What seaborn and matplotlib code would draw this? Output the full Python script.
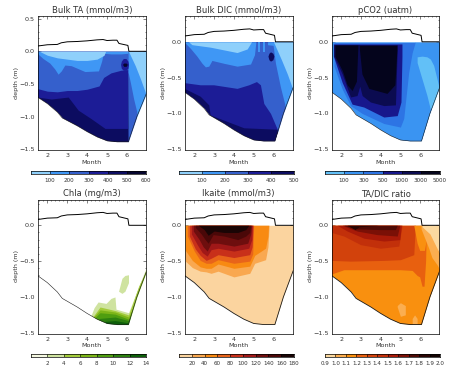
import matplotlib
matplotlib.use('Agg')
import matplotlib.pyplot as plt
from matplotlib.colors import ListedColormap
from matplotlib.ticker import MultipleLocator
import seaborn as sns

# ice surface and ice bottom
ice_m = [1.5, 2, 2.5, 2.7, 3, 3.5, 4, 4.5, 4.8, 5, 5.3, 5.5, 5.6, 5.9, 6.05, 6.1, 7]
ice_d = [.08, .10, .105, .13, .145, .15, .16, .175, .18, .165, .17, .17, .12, .10, .09, 0, 0]
bot_m = [1.5, 2, 2.5, 2.75, 3, 3.5, 4, 4.5, 5, 5.5, 6.07, 6.5, 7]
bot_d = [-.70, -.80, -.93, -1.02, -1.06, -1.14, -1.23, -1.31, -1.37, -1.385, -1.385, -1.0, -.63]

blues = ['#8fd0fb', '#3f97f5', '#3560cc', '#1c1c96', '#0c0c60', '#05052e']
co2_blues = ['#62c0f7', '#3a94f2', '#2d74e4', '#17178c', '#0b0b50', '#04041c']
greens = ['#f6f9e2', '#cfe3a0', '#a4cc3c', '#7cb518', '#4f9e10', '#2d8010', '#0e5f0a']
ikaite_cols = ['#fbd49f', '#f9a850', '#f88a12', '#e8641a', '#c8301a', '#a01818', '#6e0e0e', '#4a0808', '#1a0505']
ratio_cols = ['#fbd9a0', '#fbae50', '#f9900f', '#e8600f', '#d2420c', '#c2300a', '#a81a08', '#7a1006', '#4d0a05', '#2a0503', '#120201']

ta_ticks = ['100', '200', '300', '400', '500', '600']
dic_ticks = ['100', '200', '300', '400', '500']
co2_ticks = ['100', '300', '500', '1000', '3000', '5000']
chla_ticks = ['2', '4', '6', '8', '10', '12', '14']
ikaite_ticks = ['20', '40', '60', '80', '100', '120', '140', '160', '180']
ratio_ticks = ['0.9', '1.0', '1.1', '1.2', '1.3', '1.4', '1.5', '1.6', '1.7', '1.8', '1.9', '2.0']

# each layer: class, months, upper depth, lower depth; painted in order
ta_layers = [
    (4, bot_m, 0, bot_d),
    (3, [1.5, 2.2, 3.05, 3.55, 4.2, 4.9, 6.03, 6.05], 0, [-.7, -.73, -.70, -.90, -1.03, -1.18, -1.18, 0]),
    (2, [1.5, 2, 2.5, 3, 3.5, 4, 4.6, 4.83, 5.2, 5.7, 6.04, 6.06, 7], 0,
     [-.57, -.61, -.62, -.60, -.60, -.58, -.53, -.40, -.33, -.29, -.28, -1.45, -1.45]),
    (1, [1.5, 1.56, 1.78, 2.12, 2.37, 2.54, 2.7, 2.88, 3.2, 3.89, 4.57, 4.73, 4.82, 5.2, 5.7, 6.05], 0,
     [-.02, -.05, -.11, -.18, -.27, -.35, -.30, -.21, -.22, -.31, -.30, -.15, -.03, -.04, -.04, -.03]),
    (1, [6.06, 6.061, 6.17, 6.34, 6.5, 6.51, 7], 0, [0, -.32, -.47, -.73, -.93, -1.45, -1.45]),
    (0, [1.6, 2, 2.5, 3, 3.5, 4, 4.5, 4.85, 4.93], 0, [0, -.06, -.10, -.12, -.14, -.14, -.12, -.06, 0]),
    (0, [6.08, 6.42, 6.68, 6.93, 7], 0, [0, -.22, -.42, -.63, -.68]),
    (3, [5.68, 5.72, 5.82, 5.95, 6.05, 6.08], [-.2, -.15, -.11, -.11, -.15, -.2], [-.2, -.26, -.29, -.29, -.26, -.2]),
    (5, [5.78, 5.84, 5.96, 6.02], [-.2, -.18, -.18, -.2], [-.2, -.23, -.23, -.2]),
]
dic_layers = [
    (4, bot_m, 0, bot_d),
    (3, [1.5, 2.3, 2.73, 2.8, 3.65, 4.5, 6.19], 0, [-.65, -.76, -.88, -1.02, -1.11, -1.2, -1.22]),
    (2, [1.5, 2.3, 2.98, 4.16, 4.75, 5.14, 5.34, 5.51, 5.85, 6.19, 6.3, 7], 0,
     [-.57, -.60, -.60, -.65, -.60, -.555, -.60, -.86, -1.0, -1.22, -1.45, -1.45]),
    (1, [1.5, 1.55, 1.8, 2.13, 2.39, 2.56, 2.73, 2.89, 3.49, 4.16, 4.84, 5.04, 5.11], 0,
     [-.01, -.02, -.09, -.2, -.3, -.35, -.34, -.26, -.3, -.34, -.31, -.18, 0]),
    (1, [5.22, 5.3], 0, [-.14, -.14]),
    (1, [5.46, 5.55], 0, [-.14, -.14]),
    (1, [5.7, 5.98, 6.1, 6.35, 6.56, 6.66, 6.67, 7], 0, [-.04, -.05, -.3, -.63, -.86, -.98, -1.45, -1.45]),
    (0, [1.71, 1.88, 2.81, 4.16, 4.67, 4.89], 0, [0, -.04, -.075, -.15, -.10, 0]),
    (0, [6.0, 6.4, 6.7, 7], 0, [0, -.25, -.45, -.68]),
    (4, [5.72, 5.77, 5.85, 5.97, 6.02], [-.2, -.16, -.14, -.16, -.2], [-.2, -.25, -.27, -.25, -.2]),
]
co2_layers = [
    (1, bot_m, 0, bot_d),
    (2, [1.63, 2.05, 2.47, 3.06, 4.16, 5.0, 5.17, 5.42, 5.6, 5.76], -.01,
     [-.34, -.66, -.89, -1.0, -1.14, -1.19, -1.07, -.43, -.15, 0]),
    (3, [1.6, 2.05, 2.55, 3.14, 4.16, 4.84, 5.03, 5.08], -.03,
     [-.2, -.57, -.87, -.91, -1.05, -1.03, -.84, -.2]),
    (4, [1.62, 2.05, 2.47, 2.8, 2.94, 3.06, 3.48, 4.16, 4.75, 4.84], -.04,
     [-.2, -.45, -.77, -.75, -.62, -.75, -.84, -.89, -.88, -.1]),
    (5, [1.68, 2.05, 2.3, 2.55, 2.77, 2.84], -.045, [-.2, -.4, -.6, -.68, -.55, -.08]),
    (5, [2.92, 3.05, 3.4, 4.32, 4.72, 4.82], -.05, [-.1, -.45, -.65, -.72, -.6, -.12]),
    (0, [5.85, 6.1, 6.35, 6.52, 6.69, 6.95], [-.21, -.2, -.21, -.24, -.33, -.62], [-.29, -.52, -.75, -.94, -.89, -.64]),
]
chla_layers = [
    (1, [5.58, 5.75, 5.9, 6.08], [-.92, -.74, -.70, -.69], [-.92, -.95, -.92, -.8]),
    (1, [4.18, 4.35, 4.55, 4.95, 5.2, 5.4, 5.45, 6.08, 6.96], [-1.27, -1.15, -1.07, -1.09, -1.02, -1.0, -1.17, -1.22, -.6], -1.45),
    (2, [4.28, 4.65, 5.41, 6.08, 6.25, 6.59, 6.96], [-1.28, -1.14, -1.19, -1.25, -1.12, -.85, -.63], -1.45),
    (3, [4.3, 4.65, 5.41, 6.08, 6.25, 6.59, 6.96], [-1.29, -1.18, -1.21, -1.28, -1.18, -.90, -.64], -1.45),
    (4, [4.35, 4.65, 5.41, 6.08, 6.25, 6.59], [-1.3, -1.22, -1.24, -1.31, -1.22, -.93], -1.45),
    (5, [4.6, 5.41, 6.08, 6.2], [-1.3, -1.28, -1.33, -1.28], -1.45),
    (6, [4.9, 5.41, 6.05], [-1.34, -1.33, -1.36], -1.45),
]
ikaite_layers = [
    (0, bot_m, 0, bot_d),
    (1, [1.55, 1.9, 2.3, 2.6, 2.85, 3.2, 4, 4.8, 5.05, 5.6, 5.72, 5.78], 0,
     [-.50, -.59, -.64, -.65, -.67, -.64, -.72, -.67, -.53, -.48, -.3, 0]),
    (2, [1.55, 1.9, 2.3, 2.6, 2.85, 3.2, 4, 4.8, 5.05, 5.6, 5.72, 5.75], 0,
     [-.35, -.49, -.58, -.6, -.6, -.54, -.6, -.57, -.42, -.32, -.15, 0]),
    (3, [1.65, 2, 2.3, 2.6, 2.85, 3.2, 4, 4.8, 4.95, 5.0], 0, [-.15, -.36, -.49, -.53, -.53, -.48, -.53, -.5, -.4, 0]),
    (4, [1.75, 2.05, 2.3, 2.6, 2.85, 3.2, 4, 4.8, 4.92, 4.97], 0, [-.15, -.33, -.42, -.49, -.46, -.41, -.45, -.41, -.3, 0]),
    (5, [1.85, 2.15, 2.4, 2.65, 2.85, 3.2, 4, 4.75, 4.9, 4.93], 0, [-.12, -.27, -.38, -.43, -.34, -.32, -.36, -.32, -.2, 0]),
    (6, [1.95, 2.25, 2.45, 2.65, 2.85, 3.2, 4, 4.7, 4.85, 4.9], 0, [-.08, -.2, -.3, -.36, -.25, -.25, -.29, -.25, -.12, 0]),
    (7, [2.05, 2.35, 2.55, 2.7, 2.95, 3.5, 4.2, 4.6, 4.8, 4.85], 0, [-.03, -.12, -.2, -.25, -.13, -.15, -.2, -.15, -.1, 0]),
    (8, [2.2, 2.5, 2.7, 3, 3.5, 4.2, 4.6, 4.75], 0, [0, -.06, -.14, -.08, -.1, -.1, -.06, 0]),
]
ratio_layers = [
    (2, bot_m, 0, bot_d),
    (3, [1.5, 2.13, 3.3, 5, 5.6, 5.85, 5.98, 6.1, 6.2, 6.28, 6.32], 0, [-.68, -.62, -.62, -.62, -.63, -.7, -.72, -.85, -.85, -.5, 0]),
    (4, [1.5, 2.47, 4.16, 5, 5.68, 5.76], 0, [-.49, -.5, -.49, -.48, -.41, 0]),
    (5, [1.5, 2.13, 2.98, 3.99, 4.92, 5.09], 0, [-.1, -.15, -.27, -.32, -.29, 0]),
    (6, [1.8, 2.3, 3.15, 4.16, 4.97, 5.05], 0, [0, -.08, -.18, -.22, -.2, 0]),
    (7, [2.05, 2.8, 3.82, 4.84, 4.97], 0, [0, -.08, -.13, -.15, 0]),
    (8, [2.13, 2.8, 4, 4.75, 4.84], 0, [0, -.05, -.06, -.06, 0]),
    (9, [2.3, 2.7, 2.9, 3.9], 0, [0, -.06, -.02, 0]),
    (2, [5.68, 5.85, 5.98, 6.22, 6.44], 0, [0, -.25, -.35, -.35, 0]),
    (1, [6.05, 6.44, 6.6, 6.86, 7], [0, -.05, -.12, -.3, -.45], [-.05, -.32, -.45, -.55, -.62]),
    (0, [6.1, 6.5, 7], 0, [-.02, -.12, -.4]),
    (1, [4.84, 5.0, 5.25], [-1.12, -1.08, -1.12], [-1.14, -1.27, -1.25]),
    (1, [5.6, 5.72, 5.85], [-1.3, -1.25, -1.3], [-1.38, -1.38, -1.38]),
]

W, H = 459, 372
sns.set_style('ticks')
plt.rcParams['font.family'] = ['DejaVu Sans']
plt.rcParams['axes.linewidth'] = 0.5
FS = 4.6
TEXT = '0.2'


def px_axes(fig, left, right, top, bottom):
    return fig.add_axes([left / W, 1 - bottom / H, (right - left) / W, (bottom - top) / H])


def panel(fig, box, title, layers, cols, ymax=0.36, show_half=False, bot_lw=0.4):
    ax = px_axes(fig, *box)
    for cls, months, upper, lower in layers:
        ax.fill_between(months, upper, lower, color=cols[cls], linewidth=0)
    # clear whatever went below the ice bottom
    ax.fill_between(bot_m, bot_d, -1.6, color='white', linewidth=0)
    sns.lineplot(x=ice_m, y=ice_d, ax=ax, sort=False, estimator=None, color='black', lw=0.7)
    sns.lineplot(x=bot_m, y=bot_d, ax=ax, sort=False, estimator=None, color='0.1', lw=bot_lw)
    ax.set_xlim(1.53, 6.96)
    ax.set_ylim(-1.51, ymax)
    ax.set_xticks([2, 3, 4, 5, 6])
    ax.set_yticks([0.5, 0, -0.5, -1, -1.5] if show_half else [0, -0.5, -1, -1.5])
    ax.set_yticklabels(['0.5', '0.0', '\u22120.5', '\u22121.0', '\u22121.5'] if show_half
                       else ['0.0', '\u22120.5', '\u22121.0', '\u22121.5'])
    ax.xaxis.set_minor_locator(MultipleLocator(0.2))
    ax.yaxis.set_minor_locator(MultipleLocator(0.1))
    ax.tick_params(which='major', direction='in', top=True, right=True, length=2.2, width=0.4,
                   labelsize=FS, labelcolor=TEXT, pad=2.5)
    ax.tick_params(which='minor', direction='in', top=True, right=True, length=1, width=0.4)
    ax.set_xlabel('Month', fontsize=FS, color=TEXT)
    ax.set_ylabel('depth (m)', fontsize=FS, color=TEXT)
    ax.xaxis.set_label_coords(0.5, -0.071)
    ax.yaxis.set_label_coords(-0.176, 0.5)
    ax.set_title(title, fontsize=6, pad=2.5, color=TEXT)
    for s in ax.spines.values():
        s.set_visible(True)
        s.set_color('black')
    return ax


def colourbar(fig, box, cols, ticks):
    cax = px_axes(fig, *box)
    sns.heatmap([list(range(len(cols)))], cmap=ListedColormap(cols), cbar=False, ax=cax,
                xticklabels=False, yticklabels=False)
    cax.vlines(range(1, len(cols)), 0, 1, color='black', lw=0.4)
    cax.set_xticks(range(len(cols) + 1 - len(ticks), len(cols) + 1))
    cax.set_xticklabels(ticks, fontsize=4.1, rotation=0, color=TEXT)
    cax.tick_params(length=0, pad=3)
    for s in cax.spines.values():
        s.set_visible(True)
        s.set_linewidth(0.5)
        s.set_color('black')


def main():
    fig = plt.figure(figsize=(W / 100, H / 100), dpi=100)

    panel(fig, (38, 146, 16, 150), 'Bulk TA (mmol/m3)', ta_layers, blues, ymax=0.54, show_half=True)
    panel(fig, (185, 292.5, 16, 150), 'Bulk DIC (mmol/m3)', dic_layers, blues)
    panel(fig, (332, 439, 16, 150), 'pCO2 (uatm)', co2_layers, co2_blues)
    panel(fig, (38, 146, 199.5, 333.5), 'Chla (mg/m3)', chla_layers, greens)
    panel(fig, (185, 292.5, 199.5, 333.5), 'Ikaite (mmol/m3)', ikaite_layers, ikaite_cols, bot_lw=0.6)
    panel(fig, (332, 439, 199.5, 333.5), 'TA/DIC ratio', ratio_layers, ratio_cols, bot_lw=0.6)

    colourbar(fig, (31, 146, 170.7, 173.7), blues, ta_ticks)
    colourbar(fig, (179, 294, 170.7, 173.7), blues[:5], dic_ticks)
    colourbar(fig, (325, 440, 170.7, 173.7), co2_blues, co2_ticks)
    colourbar(fig, (31, 146, 353.7, 356.7), greens, chla_ticks)
    colourbar(fig, (179, 294, 353.7, 356.7), ikaite_cols, ikaite_ticks)
    colourbar(fig, (325, 440, 353.7, 356.7), ratio_cols, ratio_ticks)

    fig.savefig('out.png', dpi=100, facecolor='white')
    plt.close(fig)


if __name__ == '__main__':
    main()
